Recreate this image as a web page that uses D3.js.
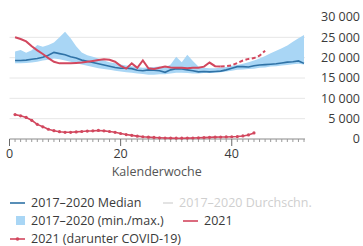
<!DOCTYPE html>
<html>
<head>
<meta charset="utf-8">
<script src="https://cdn.jsdelivr.net/npm/d3@7"></script>
<style>
  html, body { margin: 0; padding: 0; background: #fff; }
  svg { display: block; font-family: "Open Sans", "Noto Sans", sans-serif; }
</style>
</head>
<body>
<svg id="chart" width="363" height="246"></svg>
<script>
// calendar weeks 1..53
var aWeeks = d3.range(1, 54);

var aMedian = [19300, 19300, 19400, 19600, 19800, 20100, 20600, 21300, 21000, 20700,
  20200, 19900, 19400, 19100, 18800, 18500, 18200, 17900, 17600, 17400,
  17400, 17300, 16900, 16800, 17000, 16900, 16800, 16400, 17000, 17300,
  17200, 17000, 16800, 16500, 16600, 16500, 16600, 16700, 17000, 17400,
  17800, 17800, 17700, 18000, 18200, 18300, 18400, 18500, 18700, 18900,
  19000, 19200, 18600];

var aMax = [21500, 21900, 21200, 21800, 23100, 22700, 23100, 23700, 25000, 26400,
  24800, 22800, 21300, 20600, 20200, 19800, 19300, 18900, 18600, 18300,
  18100, 17900, 17700, 17500, 17600, 17700, 17800, 17600, 18300, 20200,
  18900, 20700, 19200, 17800, 17500, 17400, 17400, 17500, 17700, 18000,
  18200, 18500, 18900, 19300, 19800, 20400, 21100, 21700, 22300, 23000,
  23900, 24800, 25600];

var aMin = [18600, 18600, 18700, 18800, 19000, 19300, 19500, 19800, 19600, 19300,
  19000, 18600, 18300, 18000, 17700, 17400, 17200, 17000, 16800, 16600,
  16400, 16300, 16100, 16000, 15800, 15800, 15900, 15900, 16100, 16300,
  16300, 16200, 16100, 16100, 16200, 16200, 16300, 16400, 16600, 16800,
  17000, 17100, 17200, 17300, 17500, 17600, 17800, 17900, 18100, 18200,
  18400, 18500, 18300];

// 2021 all deaths, weeks 1..46 (from week 38 on still preliminary)
var a2021 = [25000, 24600, 24000, 22800, 21800, 20900, 19900, 19000, 18600, 18600,
  18600, 18700, 18800, 19000, 19200, 19400, 19600, 19500, 19000, 18000,
  17300, 18600, 17500, 19300, 17400, 17200, 17500, 17800, 17600, 17500,
  17500, 17400, 17500, 17500, 17800, 18800, 17900, 17800, 17900, 18100,
  18700, 19300, 19700, 19900, 20500, 21700];
var iLastFinalWeek = 38;

// 2021 COVID-19 deaths, weeks 1..44
var aCovid = [6000, 5700, 5300, 4600, 3600, 3000, 2400, 2050, 1800, 1650,
  1650, 1750, 1850, 1950, 2000, 2100, 2000, 1850, 1650, 1350,
  1100, 900, 700, 550, 450, 380, 300, 250, 220, 200,
  200, 220, 250, 300, 350, 400, 450, 480, 500, 550,
  600, 750, 1000, 1500];

var aYTicks = [0, 5000, 10000, 15000, 20000, 25000, 30000];
var aXTicks = [0, 20, 40];

var cBlue = "#2f72a6", cBand = "#a9d6f5", cRed = "#d2475e", cText = "#3a3a3a";

var svg = d3.select("#chart");
var x = d3.scaleLinear().domain([0, 53]).range([9.5, 304]);
var y = d3.scaleLinear().domain([0, 30000]).range([139, 17]);
var fmt = function(v) { return d3.format(",")(v).replace(/,/g, " "); };

// grid
svg.append("g").selectAll("line")
  .data(aYTicks.filter(function(d) { return d > 0 && d < 30000; }))
  .join("line")
  .attr("x1", x(0)).attr("x2", x(53) + 1)
  .attr("y1", function(d) { return y(d); }).attr("y2", function(d) { return y(d); })
  .attr("stroke", "#e6e6e6").attr("stroke-width", 1);

// y labels on the right
svg.append("g").selectAll("text")
  .data(aYTicks)
  .join("text")
  .attr("x", 360).attr("y", function(d) { return y(d); })
  .attr("dy", "0.35em").attr("text-anchor", "end")
  .attr("font-size", 12.5).attr("fill", cText)
  .text(fmt);

// min/max band
svg.append("path")
  .datum(aWeeks)
  .attr("fill", cBand)
  .attr("d", d3.area()
    .x(function(d) { return x(d); })
    .y0(function(d, i) { return y(aMin[i]); })
    .y1(function(d, i) { return y(aMax[i]); }));

// median
svg.append("path")
  .datum(aMedian)
  .attr("fill", "none").attr("stroke", cBlue).attr("stroke-width", 1.6)
  .attr("d", d3.line().x(function(d, i) { return x(i + 1); }).y(function(d) { return y(d); }));

// 2021
var line2021 = d3.line().x(function(d) { return x(d.w); }).y(function(d) { return y(d.v); });
var a2021Pts = a2021.map(function(v, i) { return { w: i + 1, v: v }; });
svg.append("path")
  .datum(a2021Pts.filter(function(d) { return d.w <= iLastFinalWeek; }))
  .attr("fill", "none").attr("stroke", cRed).attr("stroke-width", 2)
  .attr("d", line2021);
svg.append("path")
  .datum(a2021Pts.filter(function(d) { return d.w >= iLastFinalWeek; }))
  .attr("fill", "none").attr("stroke", cRed).attr("stroke-width", 2)
  .attr("stroke-dasharray", "4,2.5")
  .attr("d", line2021);

// x axis
var gAxis = svg.append("g").attr("transform", "translate(0," + y(0) + ")");
gAxis.append("line").attr("x1", x(0)).attr("x2", x(53) + 1).attr("stroke", "#8a8a8a");
gAxis.selectAll("line.minor")
  .data(d3.range(1, 54).filter(function(d) { return aXTicks.indexOf(d) < 0; }))
  .join("line").attr("class", "minor")
  .attr("x1", function(d) { return x(d); }).attr("x2", function(d) { return x(d); })
  .attr("y1", 0).attr("y2", 3).attr("stroke", "#9a9a9a");
gAxis.selectAll("line.major")
  .data(aXTicks)
  .join("line").attr("class", "major")
  .attr("x1", function(d) { return x(d); }).attr("x2", function(d) { return x(d); })
  .attr("y1", 0).attr("y2", 7).attr("stroke", "#6a6a6a");
gAxis.selectAll("text")
  .data(aXTicks)
  .join("text")
  .attr("x", function(d) { return x(d); }).attr("y", 19)
  .attr("text-anchor", "middle").attr("font-size", 12.5).attr("fill", cText)
  .text(function(d) { return d; });
svg.append("text")
  .attr("x", (x(0) + x(53)) / 2).attr("y", 176)
  .attr("text-anchor", "middle").attr("font-size", 12.5).attr("fill", "#555")
  .text("Kalenderwoche");

// COVID-19 line with dots
svg.append("path")
  .datum(aCovid)
  .attr("fill", "none").attr("stroke", cRed).attr("stroke-width", 1.6)
  .attr("d", d3.line().x(function(d, i) { return x(i + 1); }).y(function(d) { return y(d); }));
svg.append("g").selectAll("circle")
  .data(aCovid)
  .join("circle")
  .attr("cx", function(d, i) { return x(i + 1); }).attr("cy", function(d) { return y(d); })
  .attr("r", 1.6).attr("fill", cRed);

// legend
var gLeg = svg.append("g").attr("font-size", 12.5);
function legLine(x0, yy, color, label, textColor, iLen) {
  iLen = iLen || 15;
  gLeg.append("line").attr("x1", x0).attr("x2", x0 + iLen).attr("y1", yy).attr("y2", yy)
    .attr("stroke", color).attr("stroke-width", 1.6);
  gLeg.append("text").attr("x", x0 + iLen + 6).attr("y", yy).attr("dy", "0.35em")
    .attr("fill", textColor || cText).text(label);
}
legLine(10, 203, cBlue, "2017–2020 Median");
legLine(163, 203, "#dddddd", "2017–2020 Durchschn.", "#cfcfcf", 10);
gLeg.append("rect").attr("x", 16).attr("y", 216).attr("width", 9).attr("height", 9).attr("fill", cBand);
gLeg.append("text").attr("x", 31).attr("y", 221).attr("dy", "0.35em").attr("fill", cText).text("2017–2020 (min./max.)");
legLine(183, 221, cRed, "2021");
legLine(10, 239, cRed, "2021 (darunter COVID-19)");
gLeg.append("circle").attr("cx", 17.5).attr("cy", 239).attr("r", 1.8).attr("fill", cRed);
</script>
</body>
</html>
